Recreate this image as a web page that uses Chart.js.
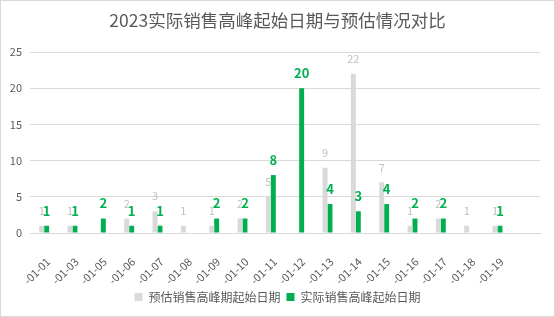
<!DOCTYPE html>
<html><head><meta charset="utf-8">
<script src="https://cdn.jsdelivr.net/npm/chart.js@4/dist/chart.umd.min.js"></script>
<style>
html,body{margin:0;padding:0;background:#fff;}
#wrap{position:absolute;left:0;top:0;width:553px;height:315px;border:1px solid #d9d9d9;}
canvas{display:block;}
</style></head>
<body>
<div id="wrap"><canvas id="c" width="553" height="315"></canvas></div>
<script>
const categories = ['-01-01','-01-03','-01-05','-01-06','-01-07','-01-08','-01-09','-01-10','-01-11','-01-12','-01-13','-01-14','-01-15','-01-16','-01-17','-01-18','-01-19',''];
const predicted = [1,1,null,2,3,1,1,2,5,null,9,22,7,1,2,1,1,null];
const actual    = [1,1,2,1,1,null,2,2,8,20,4,3,4,2,2,null,1,null];
const yTicks = [0,5,10,15,20,25];
const seriesNames = ['预估销售高峰期起始日期','实际销售高峰起始日期'];
const FONT = '"Noto Sans CJK SC","Noto Sans",sans-serif';

const labelPlugin = {
  id:'valLabels',
  afterDatasetsDraw(chart){
    const ctx = chart.ctx;
    chart.data.datasets.forEach((ds,i)=>{
      const meta = chart.getDatasetMeta(i);
      meta.data.forEach((bar,j)=>{
        const v = ds.data[j];
        if(v===null||v===undefined) return;
        ctx.save();
        ctx.textAlign='center';
        ctx.textBaseline='middle';
        if(i===0){ ctx.fillStyle='#bfbfbf'; ctx.font='11px '+FONT; }
        else { ctx.fillStyle='#00b050'; ctx.font='bold 13px '+FONT; }
        ctx.fillText(String(v), bar.x, bar.y-15);
        ctx.restore();
      });
    });
  }
};

new Chart(document.getElementById('c'),{
  type:'bar',
  data:{labels:categories,datasets:[
    {label:seriesNames[0],data:predicted,backgroundColor:'#d9d9d9',categoryPercentage:0.35,barPercentage:1},
    {label:seriesNames[1],data:actual,backgroundColor:'#00b050',categoryPercentage:0.35,barPercentage:1}
  ]},
  options:{
    responsive:false,animation:false,
    layout:{padding:{left:7,right:7,top:0,bottom:3}},
    plugins:{
      title:{display:true,text:'2023实际销售高峰起始日期与预估情况对比',color:'#595959',font:{family:FONT,size:17.5,weight:'normal'},padding:{top:9,bottom:21}},
      legend:{position:'bottom',labels:{color:'#595959',font:{family:FONT,size:12},boxWidth:8,boxHeight:8,padding:6}},
      tooltip:{enabled:false}
    },
    scales:{
      x:{grid:{display:false},border:{color:'#d9d9d9'},
         ticks:{color:'#595959',font:{family:FONT,size:11},minRotation:45,maxRotation:45,autoSkip:false,padding:14,labelOffset:4},
         afterFit:s=>{s.height=52;}},
      y:{min:0,max:25,afterBuildTicks:s=>{s.ticks=yTicks.map(v=>({value:v}));},
         grid:{color:'#d9d9d9',drawTicks:false,tickLength:0},border:{display:false},
         ticks:{color:'#595959',font:{family:FONT,size:11},padding:8},
         afterFit:s=>{s.width=22;}},
      yr:{position:'right',grid:{display:false,drawTicks:false,tickLength:0},border:{display:false},ticks:{display:false},
         afterFit:s=>{s.width=7;}}
    }
  },
  plugins:[labelPlugin]
});
</script>
</body></html>
